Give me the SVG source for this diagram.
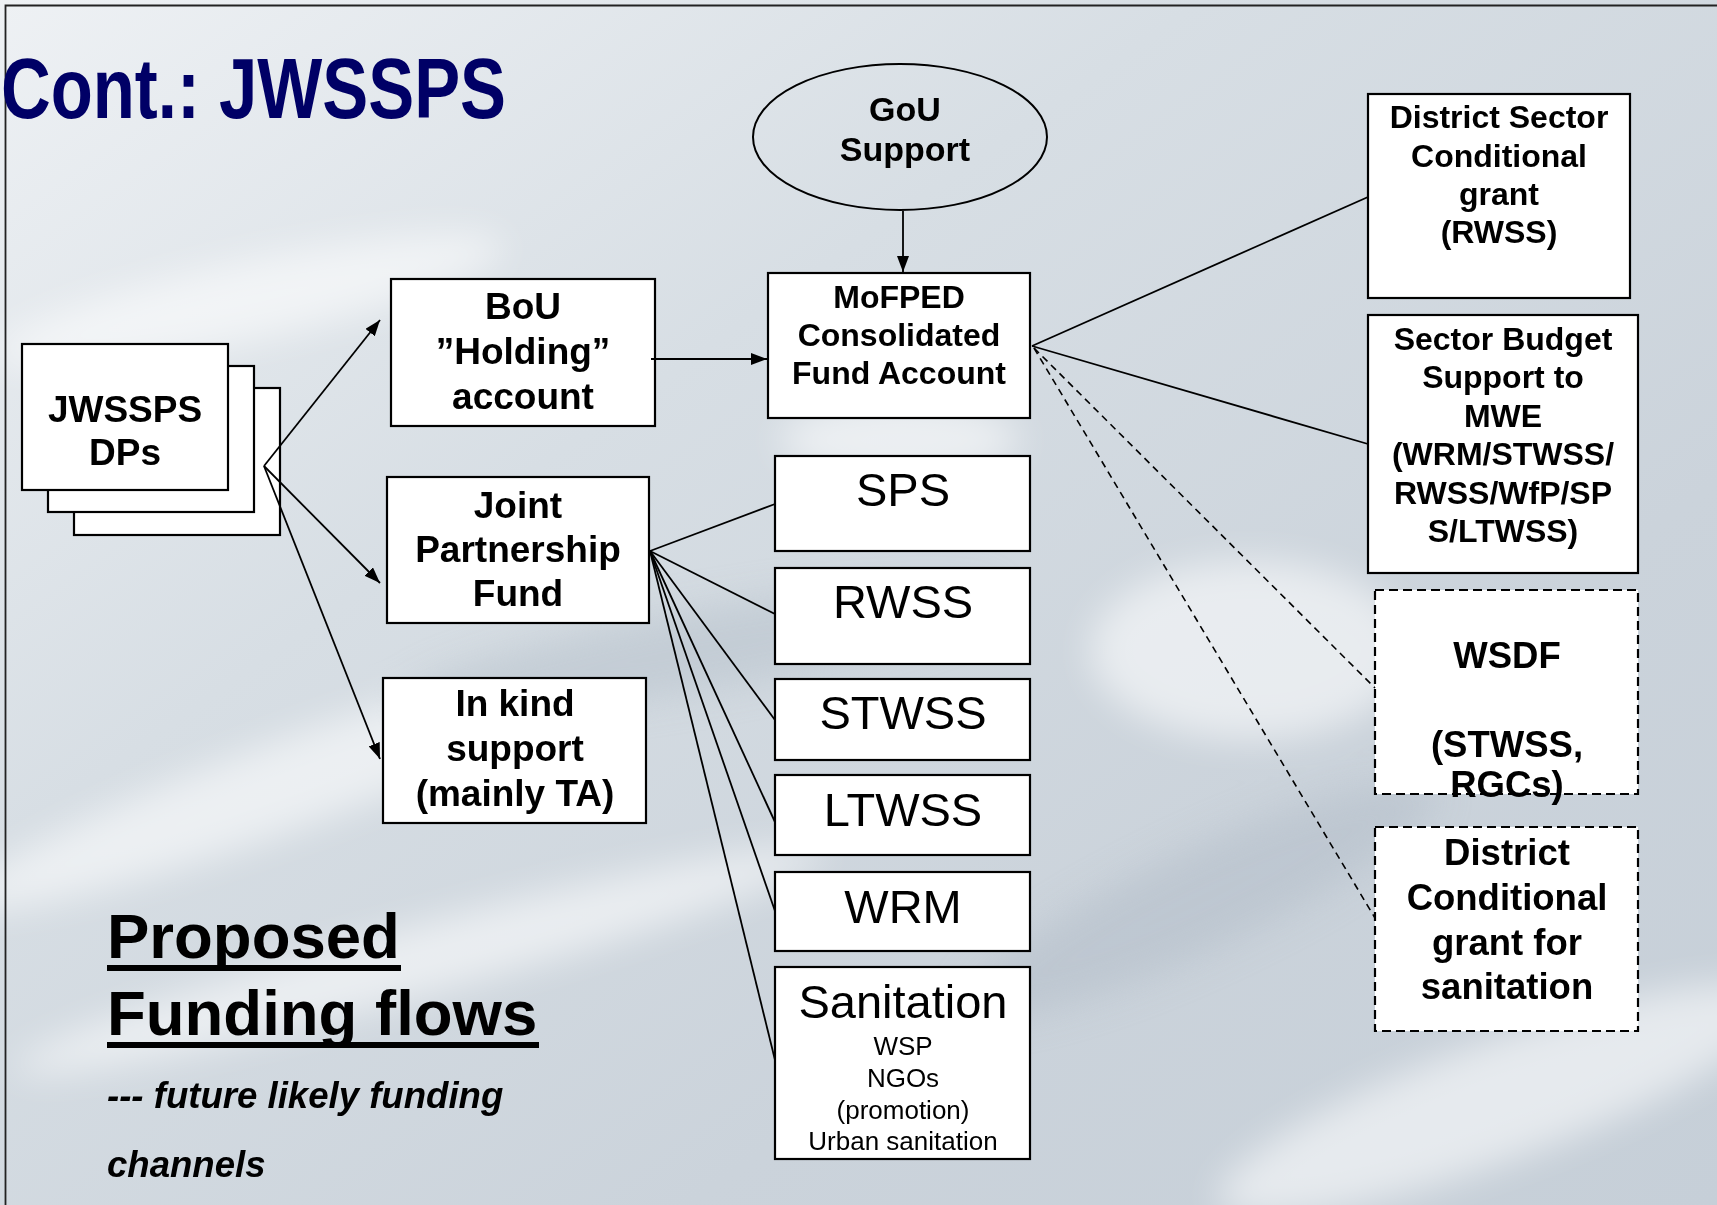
<svg xmlns="http://www.w3.org/2000/svg" width="1717" height="1205" viewBox="0 0 1717 1205">
<style>
.box{fill:#ffffff;stroke:#000000;stroke-width:2.2}
.dbox{fill:#ffffff;stroke:#000000;stroke-width:2.2;stroke-dasharray:9 5}
.ell{fill:none;stroke:#000000;stroke-width:2}
.b{font-family:"Liberation Sans",Arial,sans-serif;font-weight:bold;fill:#000000;text-anchor:middle}
.r{font-family:"Liberation Sans",Arial,sans-serif;font-weight:normal;fill:#000000;text-anchor:middle}
.ln{stroke:#000000;stroke-width:1.8;fill:none}
.dl{stroke:#000000;stroke-width:1.6;fill:none;stroke-dasharray:7 5}
</style>
<defs>
<marker id="ah" viewBox="0 0 16 12" markerWidth="16" markerHeight="12" refX="16" refY="6" orient="auto" markerUnits="userSpaceOnUse">
<path d="M0,0 L16,6 L0,12 z" fill="#000000"/>
</marker>
<linearGradient id="bg" x1="0" y1="0" x2="1" y2="1">
<stop offset="0" stop-color="#eef1f4"/>
<stop offset="0.35" stop-color="#d7dee4"/>
<stop offset="0.7" stop-color="#cbd3db"/>
<stop offset="1" stop-color="#c6cfd8"/>
</linearGradient>
<filter id="blur" x="-20%" y="-20%" width="140%" height="140%"><feGaussianBlur stdDeviation="18"/></filter>
</defs>
<g id="background">
<rect x="0" y="0" width="1717" height="1205" fill="url(#bg)"/>
<g filter="url(#blur)" opacity="0.55">
<ellipse cx="250" cy="300" rx="260" ry="40" fill="#ffffff" transform="rotate(-12 250 300)"/>
<ellipse cx="300" cy="780" rx="360" ry="45" fill="#ffffff" transform="rotate(-20 300 780)"/>
<ellipse cx="420" cy="960" rx="420" ry="35" fill="#ffffff" transform="rotate(-15 420 960)"/>
<ellipse cx="900" cy="440" rx="120" ry="40" fill="#ffffff"/>
<ellipse cx="700" cy="650" rx="300" ry="40" fill="#b8c2cc" transform="rotate(-10 700 650)"/>
<ellipse cx="1250" cy="650" rx="160" ry="90" fill="#ffffff"/>
<ellipse cx="1200" cy="900" rx="260" ry="50" fill="#b4bec9" transform="rotate(-25 1200 900)"/>
<ellipse cx="1500" cy="1100" rx="300" ry="60" fill="#ffffff" transform="rotate(-20 1500 1100)"/>
</g>
<path d="M5.5,1210 L5.5,5.5 L1720,5.5" fill="none" stroke="#222222" stroke-width="1.8"/>
</g>
<text id="title" x="1" y="118" font-family="'Liberation Sans Narrow','Liberation Sans',Arial,sans-serif" font-weight="bold" font-size="86" fill="#000066" textLength="505" lengthAdjust="spacingAndGlyphs">Cont.: JWSSPS</text>
<g id="node-jwssps">
<rect class="box" x="74" y="388" width="206" height="147"/>
<rect class="box" x="48" y="366" width="206" height="146"/>
<rect class="box" x="22" y="344" width="206" height="146"/>
<text class="b" x="125" y="422" font-size="37">JWSSPS</text>
<text class="b" x="125" y="465" font-size="37">DPs</text>
</g>
<g id="node-gou">
<ellipse class="ell" cx="900" cy="137" rx="147" ry="73"/>
<text class="b" x="905" y="121" font-size="34">GoU</text>
<text class="b" x="905" y="161" font-size="34">Support</text>
</g>
<g id="node-bou">
<rect class="box" x="391" y="279" width="264" height="147"/>
<text class="b" x="523" y="319" font-size="37">BoU</text>
<text class="b" x="523" y="364" font-size="37">”Holding”</text>
<text class="b" x="523" y="409" font-size="37">account</text>
</g>
<g id="node-mofped">
<rect class="box" x="768" y="273" width="262" height="145"/>
<text class="b" x="899" y="308" font-size="32">MoFPED</text>
<text class="b" x="899" y="346" font-size="32">Consolidated</text>
<text class="b" x="899" y="384" font-size="32">Fund Account</text>
</g>
<g id="node-jpf">
<rect class="box" x="387" y="477" width="262" height="146"/>
<text class="b" x="518" y="518" font-size="37">Joint</text>
<text class="b" x="518" y="562" font-size="37">Partnership</text>
<text class="b" x="518" y="606" font-size="37">Fund</text>
</g>
<g id="node-inkind">
<rect class="box" x="383" y="678" width="263" height="145"/>
<text class="b" x="515" y="716" font-size="37">In kind</text>
<text class="b" x="515" y="761" font-size="37">support</text>
<text class="b" x="515" y="806" font-size="37">(mainly TA)</text>
</g>
<g id="node-sps">
<rect class="box" x="775" y="456" width="255" height="95"/>
<text class="r" x="903" y="506" font-size="47">SPS</text>
</g>
<g id="node-rwss">
<rect class="box" x="775" y="568" width="255" height="96"/>
<text class="r" x="903" y="618" font-size="47">RWSS</text>
</g>
<g id="node-stwss">
<rect class="box" x="775" y="679" width="255" height="81"/>
<text class="r" x="903" y="729" font-size="47">STWSS</text>
</g>
<g id="node-ltwss">
<rect class="box" x="775" y="775" width="255" height="80"/>
<text class="r" x="903" y="826" font-size="47">LTWSS</text>
</g>
<g id="node-wrm">
<rect class="box" x="775" y="872" width="255" height="79"/>
<text class="r" x="903" y="923" font-size="47">WRM</text>
</g>
<g id="node-sanitation">
<rect class="box" x="775" y="967" width="255" height="192"/>
<text class="r" x="903" y="1018" font-size="47">Sanitation</text>
<text class="r" x="903" y="1055" font-size="26">WSP</text>
<text class="r" x="903" y="1087" font-size="26">NGOs</text>
<text class="r" x="903" y="1119" font-size="26">(promotion)</text>
<text class="r" x="903" y="1150" font-size="26">Urban sanitation</text>
</g>
<g id="node-district-sector">
<rect class="box" x="1368" y="94" width="262" height="204"/>
<text class="b" x="1499" y="128" font-size="32">District Sector</text>
<text class="b" x="1499" y="167" font-size="32">Conditional</text>
<text class="b" x="1499" y="205" font-size="32">grant</text>
<text class="b" x="1499" y="243" font-size="32">(RWSS)</text>
</g>
<g id="node-sector-budget">
<rect class="box" x="1368" y="315" width="270" height="258"/>
<text class="b" x="1503" y="350" font-size="32">Sector Budget</text>
<text class="b" x="1503" y="388" font-size="32">Support to</text>
<text class="b" x="1503" y="427" font-size="32">MWE</text>
<text class="b" x="1503" y="465" font-size="32">(WRM/STWSS/</text>
<text class="b" x="1503" y="504" font-size="32">RWSS/WfP/SP</text>
<text class="b" x="1503" y="542" font-size="32">S/LTWSS)</text>
</g>
<g id="node-wsdf">
<rect class="dbox" x="1375" y="590" width="263" height="204"/>
<text class="b" x="1507" y="668" font-size="36.5">WSDF</text>
<text class="b" x="1507" y="757" font-size="36.5">(STWSS,</text>
<text class="b" x="1507" y="797" font-size="36.5">RGCs)</text>
</g>
<g id="node-district-sanitation">
<rect class="dbox" x="1375" y="827" width="263" height="204"/>
<text class="b" x="1507" y="865" font-size="36.5">District</text>
<text class="b" x="1507" y="910" font-size="36.5">Conditional</text>
<text class="b" x="1507" y="955" font-size="36.5">grant for</text>
<text class="b" x="1507" y="999" font-size="36.5">sanitation</text>
</g>
<g id="connectors">
<line class="ln" x1="903" y1="211" x2="903" y2="272" marker-end="url(#ah)"/>
<line class="ln" x1="651" y1="359" x2="767" y2="359" marker-end="url(#ah)"/>
<line class="ln" x1="264" y1="466" x2="380" y2="320" marker-end="url(#ah)"/>
<line class="ln" x1="264" y1="466" x2="380" y2="583" marker-end="url(#ah)"/>
<line class="ln" x1="264" y1="466" x2="380" y2="759" marker-end="url(#ah)"/>
<line class="ln" x1="650" y1="551" x2="775" y2="504"/>
<line class="ln" x1="650" y1="551" x2="775" y2="614"/>
<line class="ln" x1="650" y1="551" x2="775" y2="720"/>
<line class="ln" x1="650" y1="551" x2="775" y2="822"/>
<line class="ln" x1="650" y1="551" x2="775" y2="911"/>
<line class="ln" x1="650" y1="551" x2="775" y2="1060"/>
<line class="ln" x1="1032" y1="346" x2="1368" y2="197"/>
<line class="ln" x1="1032" y1="346" x2="1368" y2="444"/>
<line class="dl" x1="1034" y1="348" x2="1375" y2="688"/>
<line class="dl" x1="1034" y1="348" x2="1375" y2="918"/>
</g>
<g id="legend">
<text x="107" y="958" font-family="'Liberation Sans',Arial,sans-serif" font-weight="bold" font-size="63.5" fill="#000000">Proposed</text>
<rect x="107" y="965" width="294" height="6" fill="#000000"/>
<text x="107" y="1035" font-family="'Liberation Sans',Arial,sans-serif" font-weight="bold" font-size="63.5" fill="#000000">Funding flows</text>
<rect x="107" y="1042" width="432" height="6" fill="#000000"/>
<text x="107" y="1108" font-family="'Liberation Sans',Arial,sans-serif" font-weight="bold" font-style="italic" font-size="36.6" fill="#000000">--- future likely funding</text>
<text x="107" y="1177" font-family="'Liberation Sans',Arial,sans-serif" font-weight="bold" font-style="italic" font-size="36.6" fill="#000000">channels</text>
</g>
</svg>
